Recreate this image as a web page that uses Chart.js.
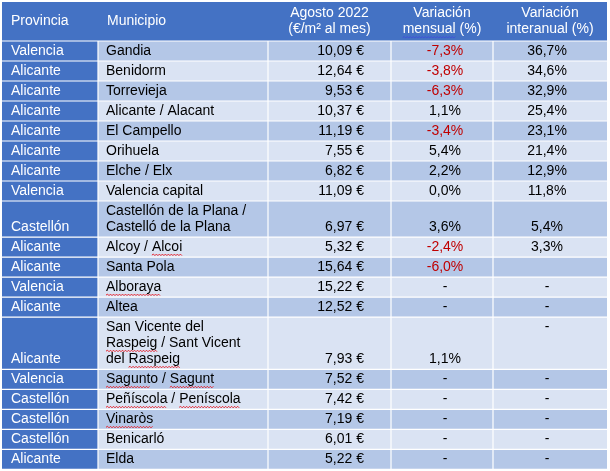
<!DOCTYPE html>
<html>
<head>
<meta charset="utf-8">
<script src="https://cdn.jsdelivr.net/npm/chart.js@4.4.0/dist/chart.umd.min.js"></script>
<style>
    html, body { margin: 0; padding: 0; background: #fff; }
</style>
</head>
<body>
<canvas id="tabla-alquiler" width="610" height="471"></canvas>
<script>
// datos de la tabla
const headers = ["Provincia", "Municipio", "Agosto 2022\n(€/m² al mes)", "Variación\nmensual (%)", "Variación\ninteranual (%)"];
const provincias = ["Valencia", "Alicante", "Alicante", "Alicante", "Alicante", "Alicante", "Alicante", "Valencia", "Castellón",
    "Alicante", "Alicante", "Valencia", "Alicante", "Alicante", "Valencia", "Castellón", "Castellón", "Castellón", "Alicante"];
const municipios = ["Gandia", "Benidorm", "Torrevieja", "Alicante / Alacant", "El Campello", "Orihuela", "Elche / Elx",
    "Valencia capital", "Castellón de la Plana / Castelló de la Plana", "Alcoy / Alcoi", "Santa Pola", "Alboraya", "Altea",
    "San Vicente del Raspeig / Sant Vicent del Raspeig", "Sagunto / Sagunt", "Peñíscola / Peníscola", "Vinaròs", "Benicarló", "Elda"];
const precios = [10.09, 12.64, 9.53, 10.37, 11.19, 7.55, 6.82, 11.09, 6.97, 5.32, 15.64, 15.22, 12.52, 7.93, 7.52, 7.42, 7.19, 6.01, 5.22];
// null = "-", "" = celda vacía
const varMensual = [-7.3, -3.8, -6.3, 1.1, -3.4, 5.4, 2.2, 0.0, 3.6, -2.4, -6.0, null, null, 1.1, null, null, null, null, null];
const varInteranual = [36.7, 34.6, 32.9, 25.4, 23.1, 21.4, 12.9, 11.8, 5.4, 3.3, "", null, null, null, null, null, null, null, null];
// palabras marcadas por el corrector
const subrayadoRojo = ["Alcoi", "Alboraya", "Raspeig", "Sagunt", "Peñíscola", "Peníscola", "Vinaròs"];
const subrayadoAzul = ["mensual"];

// maquetación
const FONT = '14px "Liberation Sans", Arial, sans-serif';
const COLS = [2, 98, 268, 391, 493, 607];
const TOP = 2, HEADER_H = 39, LINE = 16.1, PAD = 3.9, WRAP = 148;
const DARK = "#4472C4", MID = "#B4C7E7", LIGHT = "#DAE3F3", NEG = "#C00000";
const topAligned = [[13, 4]];

const fmtNum = (v, d) => v.toFixed(d).replace(".", ",");
const fmtPrecio = v => fmtNum(v, 2) + " €";
const fmtPct = v => v === "" ? "" : (v === null ? "-" : fmtNum(v, 1) + "%");

const wrapText = (ctx, text, maxW) => {
    const words = text.split(" ");
    const lines = [];
    let cur = "";
    words.forEach(w => {
        const test = cur ? cur + " " + w : w;
        if (cur && ctx.measureText(test).width > maxW) {
            lines.push(cur);
            cur = w;
        } else {
            cur = test;
        }
    });
    lines.push(cur);
    return lines;
};

const wavy = (ctx, x0, x1, y, color) => {
    ctx.save();
    ctx.strokeStyle = color;
    ctx.lineWidth = 1;
    ctx.beginPath();
    let up = true;
    ctx.moveTo(x0, y);
    for (let x = x0 + 1.5; x <= x1; x += 1.5) {
        ctx.lineTo(x, up ? y - 1 : y + 0.5);
        up = !up;
    }
    ctx.stroke();
    ctx.restore();
};

const drawLine = (ctx, line, x, y, align, color) => {
    const w = ctx.measureText(line).width;
    const left = align === "left" ? x : (align === "right" ? x - w : x - w / 2);
    ctx.fillStyle = color;
    ctx.textAlign = "left";
    ctx.fillText(line, left, y);
    [[subrayadoRojo, "#E8202A"], [subrayadoAzul, "#3F51D8"]].forEach(([list, col]) => {
        list.forEach(word => {
            let idx = line.indexOf(word);
            while (idx >= 0) {
                const a = left + ctx.measureText(line.slice(0, idx)).width;
                const b = a + ctx.measureText(word).width;
                wavy(ctx, a, b, y + 8, col);
                idx = line.indexOf(word, idx + word.length);
            }
        });
    });
};

const tablePlugin = {
    id: "tabla",
    afterDraw(chart) {
        const {ctx, scales: {x, y}} = chart;
        ctx.save();
        ctx.font = FONT;
        ctx.textBaseline = "middle";
        const px = v => x.getPixelForValue(v);
        const py = v => y.getPixelForValue(v);

        // cabecera
        ctx.fillStyle = DARK;
        ctx.fillRect(px(COLS[0]), py(TOP), px(COLS[5]) - px(COLS[0]), py(TOP + HEADER_H) - py(TOP));
        headers.forEach((h, c) => {
            const lines = h.split("\n");
            const mid = TOP + HEADER_H / 2;
            lines.forEach((l, i) => {
                const yy = mid + (i - (lines.length - 1) / 2) * LINE;
                if (c < 2) drawLine(ctx, l, px(COLS[c] + 9), py(yy), "left", "#fff");
                else drawLine(ctx, l, px((COLS[c] + COLS[c + 1]) / 2), py(yy), "center", "#fff");
            });
        });

        // filas
        let top = TOP + HEADER_H;
        const bounds = [top];
        municipios.forEach((m, r) => {
            const mLines = wrapText(ctx, m, WRAP);
            const n = mLines.length;
            const h = PAD + n * LINE;
            const band = r % 2 === 0 ? MID : LIGHT;
            COLS.slice(0, 5).forEach((c0, c) => {
                ctx.fillStyle = c === 0 ? DARK : band;
                ctx.fillRect(px(c0), py(top), px(COLS[c + 1]) - px(c0), py(top + h) - py(top));
            });
            const lineY = i => top + PAD / 2 + (i + 0.5) * LINE;
            const last = lineY(n - 1);
            const isTop = c => topAligned.some(([rr, cc]) => rr === r && cc === c);

            drawLine(ctx, provincias[r], px(COLS[0] + 9), py(last), "left", "#fff");
            mLines.forEach((l, i) => drawLine(ctx, l, px(COLS[1] + 8), py(lineY(i)), "left", "#000"));
            drawLine(ctx, fmtPrecio(precios[r]), px(COLS[3] - 27), py(last), "right", "#000");

            const vm = varMensual[r];
            drawLine(ctx, fmtPct(vm), px((COLS[3] + COLS[4]) / 2 + 3), py(isTop(3) ? lineY(0) : last), "center",
                vm !== null && vm < 0 ? NEG : "#000");
            const vi = varInteranual[r];
            drawLine(ctx, fmtPct(vi), px((COLS[4] + COLS[5]) / 2 - 3), py(isTop(4) ? lineY(0) : last), "center",
                vi !== null && vi !== "" && vi < 0 ? NEG : "#000");

            top += h;
            bounds.push(top);
        });

        // líneas blancas de la cuadrícula
        ctx.strokeStyle = "#fff";
        ctx.lineWidth = 1.2;
        ctx.beginPath();
        bounds.forEach(b => {
            ctx.moveTo(px(COLS[0]), py(b));
            ctx.lineTo(px(COLS[5]), py(b));
        });
        COLS.slice(1, 5).forEach(c => {
            ctx.moveTo(px(c), py(bounds[0]));
            ctx.lineTo(px(c), py(top));
        });
        ctx.stroke();
        ctx.restore();
    }
};

(function () {
    "use strict"

    const canvas = document.getElementById("tabla-alquiler");
    const ctx = canvas.getContext("2d");
    new Chart(ctx, {
        type: "scatter",
        data: {datasets: []},
        options: {
            responsive: false,
            animation: false,
            devicePixelRatio: 1,
            layout: {padding: 0},
            plugins: {
                legend: {display: false},
                tooltip: {enabled: false},
            },
            scales: {
                x: {type: "linear", min: 0, max: 610, display: false},
                y: {type: "linear", min: 0, max: 471, reverse: true, display: false},
            },
        },
        plugins: [tablePlugin],
    });
})()
</script>
</body>
</html>
